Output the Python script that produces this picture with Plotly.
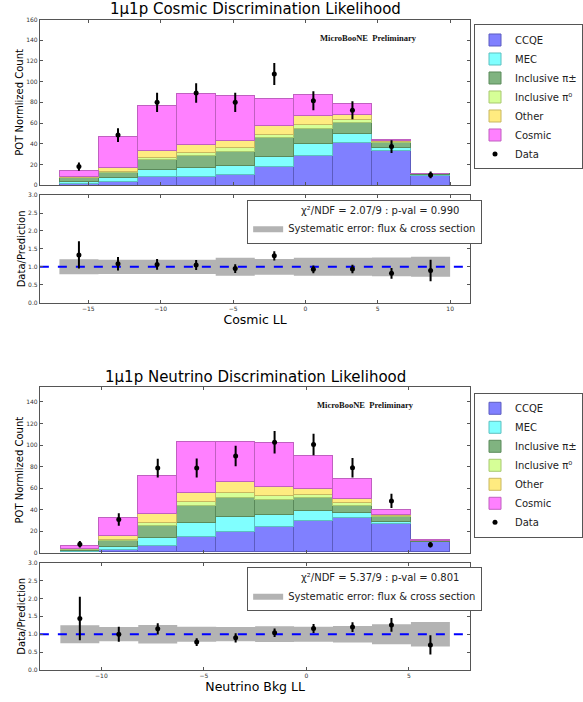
import plotly.graph_objects as go

W, H = 583, 702

# ---------------- data: Cosmic LL ----------------
cos_centers = [-15.65, -12.95, -10.25, -7.55, -4.85, -2.15, 0.55, 3.25, 5.95, 8.65]
cos_width = 2.7
cos_ccqe   = [1.9, 3.5, 8.6, 8.6, 10.5, 18.2, 28.4, 40.8, 33.1, 9.6]
cos_mec    = [1.3, 3.5, 6.7, 8.3, 8.9, 9.8, 12.1, 8.6, 2.9, 0.3]
cos_pipm   = [3.8, 4.8, 9.2, 11.8, 12.8, 17.9, 14.6, 11.2, 5.1, 0.9]
cos_pi0    = [0.3, 1.2, 2.3, 2.5, 3.8, 3.2, 3.5, 2.5, 0.7, 0.1]
cos_other  = [0.7, 3.6, 6.3, 7.7, 6.7, 8.9, 8.6, 4.8, 1.5, 0.2]
cos_cosmic = [6.0, 30.3, 44.0, 49.4, 44.0, 25.5, 20.8, 10.5, 1.0, 0.1]
cos_data     = [18.0, 48.4, 80.0, 89.0, 80.0, 107.4, 81.6, 72.4, 37.3, 9.9]
cos_data_err = [4.0, 6.7, 9.3, 9.4, 9.4, 10.7, 9.2, 8.6, 6.2, 3.2]
cos_ratio     = [1.33, 1.085, 1.067, 1.05, 0.95, 1.306, 0.93, 0.94, 0.82, 0.90]
cos_ratio_err = [0.38, 0.19, 0.15, 0.14, 0.12, 0.13, 0.11, 0.12, 0.15, 0.30]
cos_sys       = [0.21, 0.20, 0.20, 0.20, 0.25, 0.22, 0.25, 0.25, 0.26, 0.28]
cos_chi_text = "χ²/NDF = 2.07/9 : p-val = 0.990"

# ---------------- data: Neutrino Bkg LL ----------------
nu_centers = [-11.05, -9.15, -7.25, -5.35, -3.45, -1.55, 0.35, 2.25, 4.15, 6.05]
nu_width = 1.9
nu_ccqe   = [0.6, 1.8, 5.8, 14.1, 19.3, 23.9, 29.4, 31.9, 26.7, 9.5]
nu_mec    = [0.3, 3.4, 7.7, 13.5, 13.2, 11.0, 8.9, 4.6, 1.5, 0.3]
nu_pipm   = [1.6, 5.2, 11.3, 15.6, 18.1, 13.8, 12.3, 6.7, 4.3, 0.8]
nu_pi0    = [0.3, 1.2, 2.5, 4.0, 4.5, 3.7, 2.7, 2.8, 0.9, 0.1]
nu_other  = [0.6, 4.0, 8.2, 7.9, 10.2, 8.0, 5.2, 3.9, 1.2, 0.2]
nu_cosmic = [2.1, 16.6, 35.3, 47.8, 37.6, 41.3, 30.7, 17.8, 4.3, 0.1]
nu_data     = [8.0, 30.9, 78.7, 78.7, 89.8, 102.6, 100.5, 79.0, 48.1, 7.4]
nu_data_err = [3.0, 5.8, 8.7, 8.8, 9.5, 10.4, 10.0, 9.0, 6.6, 2.6]
nu_ratio     = [1.44, 1.0, 1.15, 0.78, 0.90, 1.04, 1.16, 1.20, 1.26, 0.70]
nu_ratio_err = [0.61, 0.21, 0.16, 0.11, 0.13, 0.12, 0.125, 0.135, 0.19, 0.27]
nu_sys       = [0.25, 0.20, 0.26, 0.21, 0.20, 0.22, 0.21, 0.23, 0.28, 0.34]
nu_chi_text = "χ²/NDF = 5.37/9 : p-val = 0.801"

component_names = ["CCQE", "MEC", "Inclusive π±", "Inclusive π⁰", "Other", "Cosmic"]
component_colors = ["#8080ff", "#80ffff", "#80b380", "#d6ff97", "#ffeb80", "#ff80ff"]
edge_colors = ["#5c5cc0", "#5cc0c0", "#5a8a5a", "#a8c870", "#c8b860", "#c060c0"]

FONT = "DejaVu Sans"

def px_x(p):
    return p / W

def px_y(p):
    return 1 - p / H

fig = go.Figure()

panels = [
    dict(centers=cos_centers, width=cos_width,
         comps=[cos_ccqe, cos_mec, cos_pipm, cos_pi0, cos_other, cos_cosmic],
         data=cos_data, derr=cos_data_err, ratio=cos_ratio, rerr=cos_ratio_err,
         sys=cos_sys, chi=cos_chi_text, xm="x", ym="y", xr="x2", yr="y2",
         leg_main="legend", leg_ratio="legend2", xrange=[-18.35, 11.4]),
    dict(centers=nu_centers, width=nu_width,
         comps=[nu_ccqe, nu_mec, nu_pipm, nu_pi0, nu_other, nu_cosmic],
         data=nu_data, derr=nu_data_err, ratio=nu_ratio, rerr=nu_ratio_err,
         sys=nu_sys, chi=nu_chi_text, xm="x3", ym="y3", xr="x4", yr="y4",
         leg_main="legend3", leg_ratio="legend4", xrange=[-13.0, 8.0]),
]

for p in panels:
    for name, vals, col, ecol in zip(component_names, p["comps"], component_colors, edge_colors):
        fig.add_trace(go.Bar(
            x=p["centers"], y=vals, width=p["width"], name=name,
            marker=dict(color=col, line=dict(color=ecol, width=1)),
            xaxis=p["xm"], yaxis=p["ym"], legend=p["leg_main"]))
    fig.add_trace(go.Scatter(
        x=p["centers"], y=p["data"], mode="markers", name="Data",
        marker=dict(color="black", size=5),
        error_y=dict(type="data", array=p["derr"], color="black", thickness=2, width=0),
        xaxis=p["xm"], yaxis=p["ym"], legend=p["leg_main"]))

    # systematic band built from the bin edges
    bx, by = [], []
    for c, s in zip(p["centers"], p["sys"]):
        lo, hi = c - p["width"] / 2, c + p["width"] / 2
        bx += [lo, hi, hi, lo, lo, None]
        by += [1 - s, 1 - s, 1 + s, 1 + s, 1 - s, None]
    fig.add_trace(go.Scatter(
        x=bx, y=by, mode="lines", fill="toself", fillcolor="#b3b3b3",
        line=dict(width=0, color="#b3b3b3"),
        name="Systematic error: flux & cross section",
        xaxis=p["xr"], yaxis=p["yr"], legend=p["leg_ratio"]))
    fig.add_trace(go.Scatter(
        x=p["xrange"], y=[1, 1], mode="lines",
        line=dict(color="blue", width=2, dash="dash"), showlegend=False,
        xaxis=p["xr"], yaxis=p["yr"]))
    fig.add_trace(go.Scatter(
        x=p["centers"], y=p["ratio"], mode="markers", showlegend=False,
        marker=dict(color="black", size=5),
        error_y=dict(type="data", array=p["rerr"], color="black", thickness=2, width=0),
        xaxis=p["xr"], yaxis=p["yr"]))

tickfont = dict(family=FONT, size=6, color="#333")
axis_common = dict(showline=True, linecolor="#555", linewidth=1, mirror="ticks",
                   ticks="inside", ticklen=3, tickcolor="#555", tickfont=tickfont,
                   showgrid=False, zeroline=False)

xdom = [px_x(40), px_x(472)]

layout = dict(
    width=W, height=H, margin=dict(l=0, r=0, t=0, b=0),
    paper_bgcolor="white", plot_bgcolor="white", barmode="stack", bargap=0,
    font=dict(family=FONT, color="black"),
    xaxis=dict(domain=xdom, anchor="y", range=panels[0]["xrange"], showticklabels=False,
               tickvals=[-15, -10, -5, 0, 5, 10], **axis_common),
    yaxis=dict(domain=[px_y(183), px_y(15.7)], anchor="x", range=[0, 160],
               tickvals=[0, 20, 40, 60, 80, 100, 120, 140, 160],
               title=dict(text="POT Normlized Count", font=dict(size=10), standoff=0),
               **axis_common),
    xaxis2=dict(domain=xdom, anchor="y2", range=panels[0]["xrange"],
                tickvals=[-15, -10, -5, 0, 5, 10],
                title=dict(text="Cosmic LL", font=dict(size=12.5), standoff=1),
                **axis_common),
    yaxis2=dict(domain=[px_y(301.7), px_y(193)], anchor="x2", range=[0, 3],
                tickvals=[0, 0.5, 1, 1.5, 2, 2.5, 3], tickformat=".1f",
                title=dict(text="Data/Prediction", font=dict(size=10), standoff=0),
                **axis_common),
    xaxis3=dict(domain=xdom, anchor="y3", range=panels[1]["xrange"], showticklabels=False,
                tickvals=[-10, -5, 0, 5], **axis_common),
    yaxis3=dict(domain=[px_y(554.3), px_y(387.3)], anchor="x3", range=[0, 153.5],
                tickvals=[0, 20, 40, 60, 80, 100, 120, 140],
                title=dict(text="POT Normlized Count", font=dict(size=10), standoff=0),
                **axis_common),
    xaxis4=dict(domain=xdom, anchor="y4", range=panels[1]["xrange"],
                tickvals=[-10, -5, 0, 5],
                title=dict(text="Neutrino Bkg LL", font=dict(size=12.5), standoff=1),
                **axis_common),
    yaxis4=dict(domain=[px_y(672.7), px_y(564.3)], anchor="x4", range=[0, 3],
                tickvals=[0, 0.5, 1, 1.5, 2, 2.5, 3], tickformat=".1f",
                title=dict(text="Data/Prediction", font=dict(size=10), standoff=0),
                **axis_common),
)

leg_common = dict(xanchor="left", yanchor="top", bgcolor="white", bordercolor="#555",
                  borderwidth=1, font=dict(family=FONT, size=10, color="#222"),
                  traceorder="normal", tracegroupgap=0)
layout["legend"] = dict(x=px_x(476), y=px_y(20.7), **leg_common)
layout["legend3"] = dict(x=px_x(476), y=px_y(392.7), **leg_common)
pad = "\u00a0" * 16
layout["legend2"] = dict(x=px_x(248), y=px_y(197.7),
                         title=dict(text=pad + cos_chi_text, side="top",
                                    font=dict(family=FONT, size=10, color="#222")),
                         **leg_common)
layout["legend4"] = dict(x=px_x(248), y=px_y(569),
                         title=dict(text=pad + nu_chi_text, side="top",
                                    font=dict(family=FONT, size=10, color="#222")),
                         **leg_common)

layout["annotations"] = [
    dict(text="1μ1p Cosmic Discrimination Likelihood", x=px_x(256), y=px_y(5),
         xref="paper", yref="paper", showarrow=False, xanchor="center", yanchor="middle",
         font=dict(family=FONT, size=15, color="black")),
    dict(text="1μ1p Neutrino Discrimination Likelihood", x=px_x(256), y=px_y(377),
         xref="paper", yref="paper", showarrow=False, xanchor="center", yanchor="middle",
         font=dict(family=FONT, size=15, color="black")),
    dict(text="<b>MicroBooNE  Preliminary</b>", x=px_x(370), y=px_y(34),
         xref="paper", yref="paper", showarrow=False, xanchor="center", yanchor="middle",
         font=dict(family="Liberation Serif", size=8.5, color="#111")),
    dict(text="<b>MicroBooNE  Preliminary</b>", x=px_x(367), y=px_y(405),
         xref="paper", yref="paper", showarrow=False, xanchor="center", yanchor="middle",
         font=dict(family="Liberation Serif", size=8.5, color="#111")),
]

fig.update_layout(**layout)
fig.write_html("out.html")
